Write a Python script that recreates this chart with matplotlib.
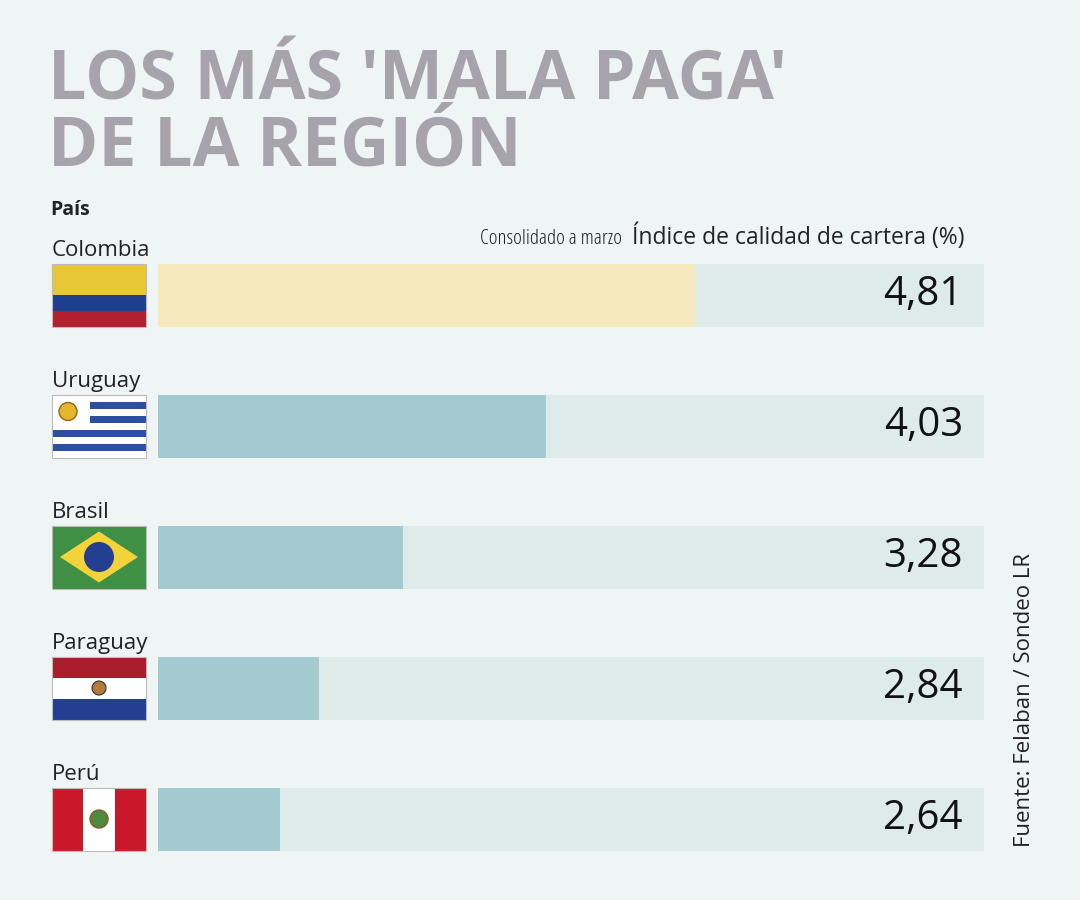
import matplotlib.pyplot as plt
import matplotlib.patches as patches

countries = ["Colombia", "Uruguay", "Brasil", "Paraguay", "Perú"]
values = [4.81, 4.03, 3.28, 2.84, 2.64]
labels = ["4,81", "4,03", "3,28", "2,84", "2,64"]

BG = "#eef5f4"
TRACK = "#deebe9"
BAR = "#a3cad1"
HIGHLIGHT = "#f6e9bd"
GREY = "#a6a3aa"

plt.rcParams['font.family'] = ['Open Sans', 'DejaVu Sans']

fig = plt.figure(figsize=(10.8, 9), dpi=100, facecolor=BG)
bg = fig.add_axes([0, 0, 1, 1])
bg.set_xlim(0, 1080)
bg.set_ylim(900, 0)
bg.axis('off')

bg.text(48, 100, "LOS MÁS 'MALA PAGA'", fontsize=49, fontweight='bold', color=GREY, va='baseline')
bg.text(48, 165, "DE LA REGIÓN", fontsize=49, fontweight='bold', color=GREY, va='baseline')
bg.text(50, 215, "País", fontsize=14, fontweight='bold', color='#222222', va='baseline')
bg.text(622, 244, "Consolidado a marzo", fontsize=15, color='#222222', va='baseline', ha='right', stretch='condensed')
bg.text(632, 244, "Índice de calidad de cartera (%)", fontsize=16.5, color='#222222', va='baseline')
bg.text(1024, 700, "Fuente: Felaban / Sondeo LR", fontsize=16, color='#222222', rotation=90, ha='center', va='center')

rows = [295, 426, 557, 688, 819]
fh = 63
fx, fw = 52, 94


def flag(i, name):
    y0 = rows[i] - fh / 2
    def rect(x, y, w, h, c, **kw):
        bg.add_patch(patches.Rectangle((x, y), w, h, fc=c, ec='none', **kw))
    if name == "Colombia":
        rect(fx, y0, fw, fh / 2, "#e8c736")
        rect(fx, y0 + fh / 2, fw, fh / 4, "#1e3f8e")
        rect(fx, y0 + 3 * fh / 4, fw, fh / 4, "#b21f2f")
    elif name == "Uruguay":
        rect(fx, y0, fw, fh, "white")
        for k in range(9):
            if k % 2 == 1:
                rect(fx, y0 + k * fh / 9, fw, fh / 9, "#2c4fa0")
        rect(fx, y0, fw * 0.4, fh * 5 / 9, "white")
        bg.add_patch(patches.Circle((fx + 16, y0 + 17), 9, fc="#e4b62e", ec="#8a6b1b", lw=1))
    elif name == "Brasil":
        rect(fx, y0, fw, fh, "#3f8f45")
        bg.add_patch(patches.Polygon([(fx + 8, rows[i]), (fx + fw / 2, y0 + 6),
                                      (fx + fw - 8, rows[i]), (fx + fw / 2, y0 + fh - 6)],
                                     fc="#f2d43a", ec='none'))
        bg.add_patch(patches.Circle((fx + fw / 2, rows[i]), 15, fc="#243f8f", ec='none'))
    elif name == "Paraguay":
        rect(fx, y0, fw, fh / 3, "#a81c2c")
        rect(fx, y0 + fh / 3, fw, fh / 3, "white")
        rect(fx, y0 + 2 * fh / 3, fw, fh / 3, "#233f92")
        bg.add_patch(patches.Circle((fx + fw / 2, rows[i]), 7, fc="#b57a3a", ec="#333333", lw=0.8))
    else:
        rect(fx, y0, fw / 3, fh, "#c8182a")
        rect(fx + fw / 3, y0, fw / 3, fh, "white")
        rect(fx + 2 * fw / 3, y0, fw / 3, fh, "#c8182a")
        bg.add_patch(patches.Circle((fx + fw / 2, rows[i]), 9, fc="#4d8a3e", ec="#8a5a2a", lw=1))
    bg.add_patch(patches.Rectangle((fx, y0), fw, fh, fc='none', ec='#bbbbbb', lw=0.8))
    bg.text(fx, y0 - 8, name, fontsize=16, color='#222222', va='baseline')


for i, c in enumerate(countries):
    flag(i, c)

# bar axes: x from 158 to 984 px
ax = fig.add_axes([158 / 1080, 1 - 880 / 900, (984 - 158) / 1080, (880 - 230) / 900])
ax.set_facecolor('none')
ax.axis('off')
xmin, xmax = 2.0, 6.32
ax.set_xlim(xmin, xmax)
ax.set_ylim(880, 230)
for i, v in enumerate(values):
    ax.barh(rows[i], xmax - xmin, left=xmin, height=fh, color=TRACK)
    ax.barh(rows[i], v - xmin, left=xmin, height=fh, color=HIGHLIGHT if i == 0 else BAR)
    ax.text(6.21, rows[i], labels[i], fontsize=29, ha='right', va='center', color='#111111')

fig.savefig("out.png", dpi=100, facecolor=BG)
